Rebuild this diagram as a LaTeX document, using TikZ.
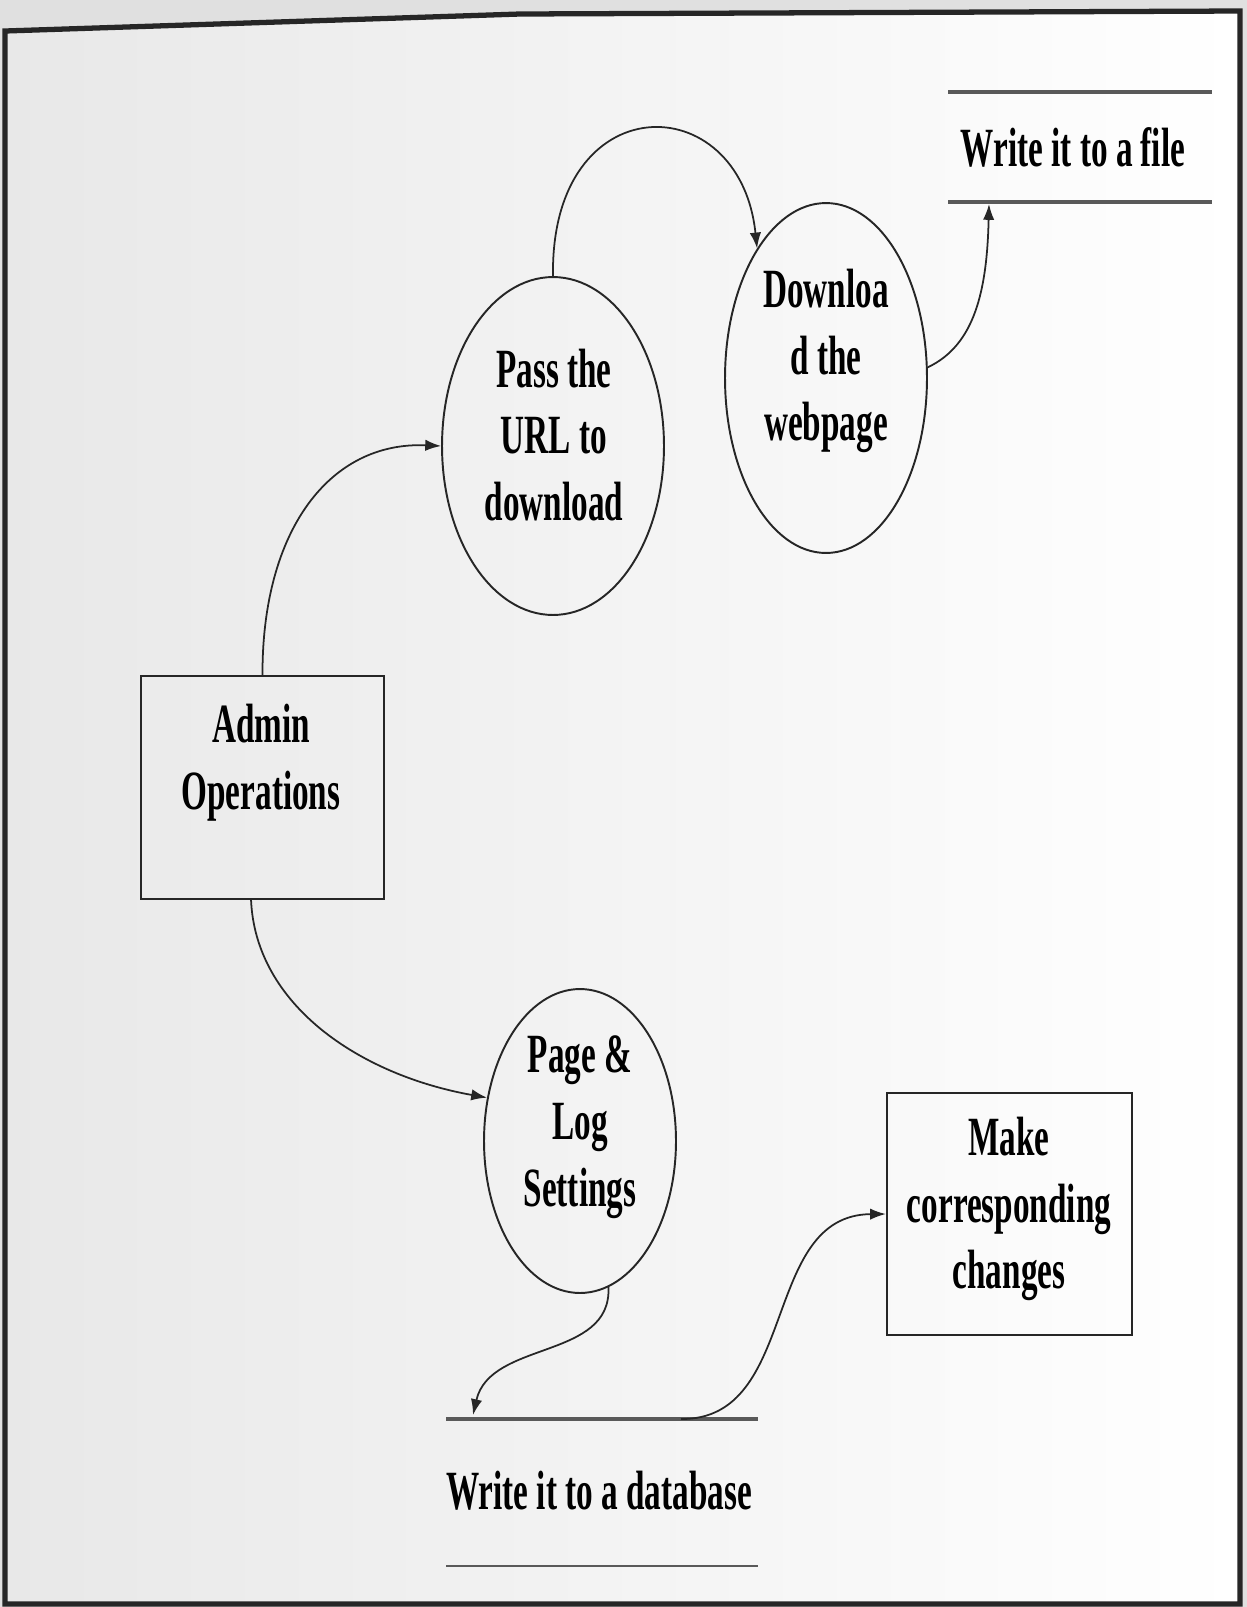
\documentclass[tikz,border=0pt]{standalone}
\usepackage{fontspec}
\newfontfamily\labelfont[FakeStretch=0.6]{Liberation Serif}
\usetikzlibrary{shapes.geometric,arrows.meta,calc}

\begin{document}
\begin{tikzpicture}[x=0.02cm,y=-0.02cm,
  lbl/.style={font=\labelfont\bfseries\fontsize{31.5}{38}\selectfont,
    align=center, inner sep=0pt, text=black},
  proc/.style={draw=black!85, line width=1.1pt, ellipse, inner sep=0pt},
  ent/.style={draw=black!85, line width=1.3pt, rectangle, inner sep=0pt},
  flow/.style={draw=black!85, line width=1pt,
    -{Latex[length=9pt,width=6.5pt]}},
  storeline/.style={draw=black!65, line width=2.2pt},
  pageframe/.style={draw=black!85, line width=3pt, line join=miter}
]
\useasboundingbox (0,0) rectangle (1247,1607);

% scanned sheet: grey surround, page shading from left to right
\fill[black!12] (0,0) rectangle (1247,1607);
\shade[left color=black!9, middle color=black!2, right color=white]
  (5,31) -- (520,14) -- (1240,11) -- (1240,1604) -- (5,1604) -- cycle;
\draw[pageframe] (1240,1604) -- (1240,11) -- (520,14) -- (5,31)
  -- (5,1604) -- cycle;

% external entities
\node[ent, minimum width=4.86cm, minimum height=4.46cm] (admin) at (262.5,787.5) {};
\node[lbl] (adminT) at (261,763) {Admin\\Operations};
\node[ent, minimum width=4.9cm, minimum height=4.84cm] (make) at (1009.5,1214) {};
\node[lbl] (makeT) at (1009,1209) {Make\\corresponding\\changes};

% processes
\node[proc, minimum width=4.44cm, minimum height=6.76cm] (pass) at (553,446) {};
\node[lbl] (passT) at (554,435) {Pass the\\URL to\\download};
\node[proc, minimum width=4.04cm, minimum height=7.0cm] (dl) at (826,378) {};
\node[lbl] (dlT) at (826,361) {Downloa\\d the\\webpage};
\node[proc, minimum width=3.84cm, minimum height=6.08cm] (page) at (580,1141) {};
\node[lbl] (pageT) at (580,1127) {Page \&\\Log\\Settings};

% data stores
\node[lbl] (file) at (1073,147) {Write it to a file};
\draw[storeline] (948,92) -- (1212,92);
\draw[storeline] (948,202) -- (1212,202);
\node[lbl] (db) at (599,1491) {Write it to a database};
\draw[storeline] (446,1419) -- (758,1419);
\draw[storeline, line width=1.6pt] (446,1566) -- (758,1566);

\coordinate (fileIn) at (989,204);
\coordinate (adminOut) at (251,899);
\coordinate (dbIn) at (473,1415);
\coordinate (dbOut) at (681,1419);

% data flows
\draw[flow] (admin.north) .. controls (262,530) and (330,441) .. (pass.west);
\draw[flow] (pass.north) .. controls (550,85) and (740,85) .. (dl.118);
\draw[flow] (dl.6) .. controls (975,345) and (987,290) .. (fileIn);
\draw[flow] (adminOut) .. controls (255,1005) and (360,1075) .. (page.155);
\draw[flow] (page.-79) .. controls (612,1360) and (490,1340) .. (dbIn);
\draw[flow] (dbOut) .. controls (800,1420) and (760,1215) .. (make.west);
\end{tikzpicture}
\end{document}
